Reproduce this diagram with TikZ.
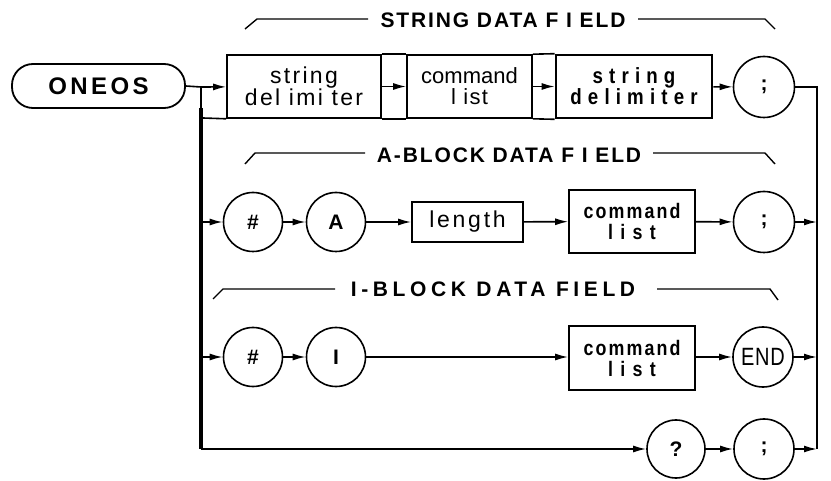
\documentclass[tikz,border=0pt]{standalone}
\usepackage{fontspec}
\setmainfont{Liberation Sans}
\usetikzlibrary{arrows.meta}
\newcommand{\fsz}[2]{\fontsize{#1}{#2}\selectfont}
\newcommand{\lsp}[1]{\addfontfeature{LetterSpace=#1}}
\newcommand{\nrw}[1]{\addfontfeature{FakeStretch=#1}}
\begin{document}
\begin{tikzpicture}[x=1pt,y=-1pt,
  ln/.style={line width=1.6pt},
  arr/.style={line width=1.6pt,-{Latex[length=13pt,width=7pt]}},
  box/.style={draw,line width=1.6pt,inner sep=0pt,align=center},
  circ/.style={draw,circle,line width=1.6pt,inner sep=0pt,minimum size=60pt},
  hdr/.style={font=\fsz{21}{23}\bfseries\lsp{9}},
  brk/.style={line width=1.4pt},
  regtxt/.style={font=\fsz{23}{21}\lsp{10}},
  boldtxt/.style={font=\fsz{22}{21}\bfseries\nrw{0.85}\lsp{28}},
  cmdtxt/.style={font=\fsz{21}{21}\bfseries\nrw{0.85}\lsp{10}},
  ctxt/.style={font=\fsz{21}{22}\bfseries}]
\useasboundingbox (0,0) rectangle (831,481);

% start
\node[draw,line width=1.8pt,rounded corners=21pt,minimum width=173pt,minimum height=44pt,
      font=\fsz{24}{26}\bfseries\lsp{14}] (oneos) at (98.5,86) {ONEOS};
\coordinate (j) at (201,87);
\coordinate (jb) at (201,108);
\coordinate (b) at (201,449);
\coordinate (lb) at (203,118);

% row 1
\node[box,minimum width=154pt,minimum height=63pt,regtxt] (sd1) at (304,86.5) {string\\del imi ter};
\node[box,minimum width=125pt,minimum height=63pt,font=\fsz{22}{21}] (cl1) at (469.5,86.5) {command\\{\lsp{6}l ist}};
\node[box,line width=2.6pt,minimum width=156pt,minimum height=63pt,boldtxt] (sd2) at (634,86.5) {string\\delimiter};
\node[circ,minimum size=61pt,ctxt] (s1) at (764,87) {;};
\coordinate (r1) at (817,87);

% row 2
\node[circ,minimum size=59pt,ctxt] (h2) at (253,222) {\#};
\node[circ,minimum size=59pt,ctxt] (a2) at (336,222) {A};
\node[box,minimum width=111pt,minimum height=40pt,font=\fsz{23}{24}\lsp{12}] (len) at (467.5,222) {length};
\node[box,minimum width=126pt,minimum height=63pt,cmdtxt] (cl2) at (632,221.5) {command\\{\lsp{35}list}};
\node[circ,minimum size=61pt,ctxt] (s2) at (764,222) {;};
\coordinate (l2) at (201,222);
\coordinate (r2) at (817,222);

% row 3
\node[circ,minimum size=59pt,ctxt] (h3) at (253,357) {\#};
\node[circ,minimum size=59pt,ctxt] (i3) at (336,357) {I};
\node[box,minimum width=126pt,minimum height=64pt,cmdtxt] (cl3) at (632,358) {command\\{\lsp{35}list}};
\node[circ,minimum size=60pt,font=\fsz{25}{26}\nrw{0.8}\lsp{3}] (e3) at (763,357) {END};
\coordinate (l3) at (201,357);
\coordinate (r3) at (817,357);

% row 4
\node[circ,minimum size=58pt,ctxt] (q4) at (676,449) {?};
\node[circ,minimum size=60pt,ctxt] (s4) at (764,449) {;};
\coordinate (r4) at (817,449);

% trunk
\draw[ln] (oneos.east) -- (j) -- (jb);
\draw[line width=3.4pt] (jb) -- (b);
\draw[ln] (lb) -- (sd1.south west);
\draw[ln] (sd1.north east) -- (cl1.north west) (sd1.south east) -- (cl1.south west);
\draw[ln] (cl1.north east) -- (sd2.north west) (cl1.south east) -- (sd2.south west);

% connectors row 1
\draw[arr] (j) -- (sd1);
\draw[arr] (sd1) -- (cl1);
\draw[arr] (cl1) -- (sd2);
\draw[arr] (sd2) -- (s1);
\draw[ln] (s1) -- (r1) -- (r4);

% row 2
\draw[arr] (l2) -- (h2);
\draw[arr] (h2) -- (a2);
\draw[arr] (a2) -- (len);
\draw[arr] (len) -- (cl2);
\draw[arr] (cl2) -- (s2);
\draw[arr] (s2) -- (r2);

% row 3
\draw[arr] (l3) -- (h3);
\draw[arr] (h3) -- (i3);
\draw[arr] (i3) -- (cl3.west |- i3);
\draw[arr] (cl3.east |- e3) -- (e3);
\draw[arr] (e3) -- (r3);

% row 4
\draw[arr] (b) -- (q4);
\draw[arr] (q4) -- (s4);
\draw[arr] (s4) -- (r4);

% headers
\node[hdr] (t1) at (503,20) {STRING DATA F I ELD};
\draw[brk] (245,29) -- (257,19) -- (368,19);
\draw[brk] (638,19) -- (765,19) -- (775,29);

\node[hdr] (t2) at (509,155) {A-BLOCK DATA F I ELD};
\draw[brk] (245,164) -- (255,153) -- (365,153);
\draw[brk] (653,153) -- (765,153) -- (775,164);

\node[hdr,font=\fsz{21}{23}\bfseries\lsp{22}] (t3) at (493,289) {I-BLOCK DATA FIELD};
\draw[brk] (213,299) -- (223,289) -- (335,289);
\draw[brk] (657,289) -- (770,289) -- (778,300);
\end{tikzpicture}
\end{document}
